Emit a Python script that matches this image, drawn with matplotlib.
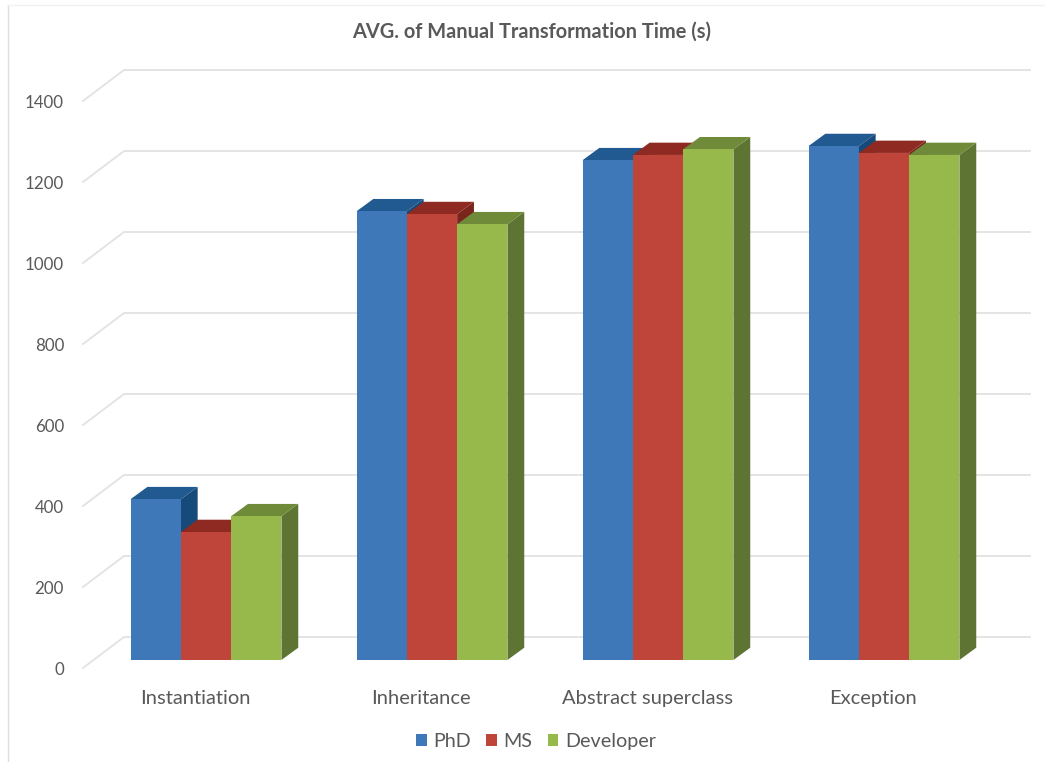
import numpy as np
import matplotlib
matplotlib.use('Agg')
import matplotlib.pyplot as plt

categories = ['Instantiation', 'Inheritance', 'Abstract superclass', 'Exception']
series_names = ['PhD', 'MS', 'Developer']
phd = [397, 1108, 1234, 1269]
ms = [316, 1101, 1247, 1252]
developer = [355, 1076, 1261, 1247]
y_ticks = [0, 200, 400, 600, 800, 1000, 1200, 1400]

front_colors = ['#3f78b9', '#bf453a', '#97b84a']
top_colors = ['#215a90', '#8e2a21', '#6f8b39']
side_colors = ['#154a7a', '#7a241c', '#5e7433']
text_color = '#595959'
grid_color = '#e2e2e2'

plt.rcParams['font.family'] = ['Lato', 'DejaVu Sans']

PX_X = 226.0    # pixels per category
PX_Y = 0.405    # pixels per value unit
X0 = 206.0      # pixel of first category centre
Y0 = 660.0      # pixel of the value 0 on the bars' front

W, H = 1045, 762
fig = plt.figure(figsize=[W/100, H/100], dpi=100)
ax = fig.add_axes([0, 0, 1, 1])
ax.set_xlim((0-X0)/PX_X, (W-X0)/PX_X)
ax.set_ylim((Y0-H)/PX_Y, (Y0-0)/PX_Y)
ax.axis('off')

# faint chart frame, left and top
fig.add_artist(plt.Line2D([7.5/W, 7.5/W], [0, 1-5/H], color='#dedede', linewidth=1.0))
fig.add_artist(plt.Line2D([7.5/W, 1], [1-5/H, 1-5/H], color='#f2f2f2', linewidth=1.0))

bar_w = 50.3/PX_X
dx = 16.8/PX_X
dy = 12.3/PX_Y

# floor and back wall gridlines
wall_left = (83-X0)/PX_X
wall_back = (124-X0)/PX_X
wall_right = (1030-X0)/PX_X
floor_front = -8/PX_Y
floor_back = 23/PX_Y
for t in y_ticks:
    ax.plot([wall_left, wall_back, wall_right],
            [t+floor_front, t+floor_back, t+floor_back],
            color=grid_color, linewidth=1.3, zorder=1, solid_joinstyle='miter')
    ax.text((64-X0)/PX_X, t+floor_front-2/PX_Y, str(t), ha='right', va='center',
            fontsize=12.2, color=text_color)

x = np.arange(len(categories))
values = [phd, ms, developer]
handles = []
z = 2
for i in range(len(categories)):
    for j in range(3):
        left = x[i] + (j-1.5)*bar_w
        v = values[j][i]
        ax.fill([left+bar_w, left+bar_w+dx, left+bar_w+dx, left+bar_w],
                [0, dy, v+dy, v], color=side_colors[j], linewidth=0, zorder=z)
        ax.fill([left, left+dx, left+bar_w+dx, left+bar_w],
                [v, v+dy, v+dy, v], color=top_colors[j], linewidth=0, zorder=z)
        b = ax.bar(left, v, width=bar_w, align='edge', color=front_colors[j],
                   linewidth=0, zorder=z, label=series_names[j] if i == 0 else None)
        if i == 0:
            handles.append(b)
        z += 1

for i, c in enumerate(categories):
    ax.text(x[i]-11/PX_X, (Y0-698.5)/PX_Y, c, ha='center', va='center',
            fontsize=14.5, color=text_color)

ax.text((532-X0)/PX_X, (Y0-31.5)/PX_Y, 'AVG. of Manual Transformation Time (s)',
        ha='center', va='center', fontsize=14.4, fontweight='bold', color=text_color)

ax.legend(handles=handles, ncol=3, frameon=False, loc='center',
          bbox_to_anchor=(536/W, 1-741.5/H), fontsize=14.2, labelcolor=text_color,
          handlelength=0.53, handleheight=0.53, handletextpad=0.32, columnspacing=0.8)

plt.savefig('out.png', dpi=100)
